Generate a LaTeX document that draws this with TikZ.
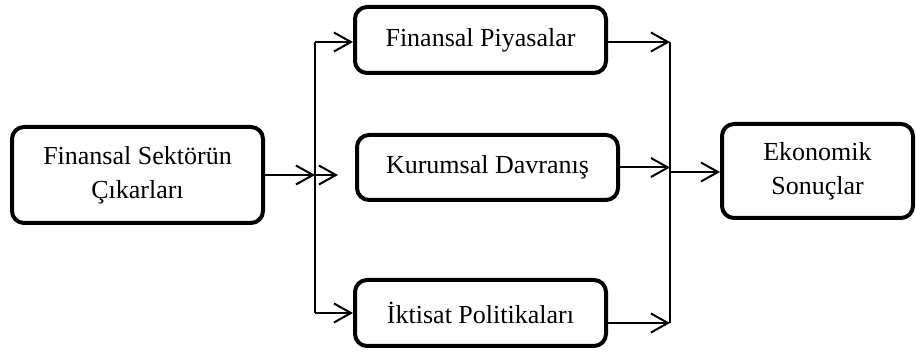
\documentclass[tikz,border=0pt]{standalone}
\usepackage{fontspec}
\setmainfont{Liberation Serif}
\usetikzlibrary{arrows.meta}
\tikzset{
  stage/.style={draw=black,line width=4bp,rounded corners=12bp,align=center,
    inner sep=0pt,font=\fontsize{26bp}{34bp}\selectfont},
}
\begin{document}
\begin{tikzpicture}[>={Straight Barb[length=17bp,width=19bp]},line width=2bp,line join=bevel,]
\useasboundingbox (0bp,0bp) rectangle (916bp,354bp);
%%
\node (src) at (137.5bp,179bp) [stage,minimum width=251bp,minimum height=96bp] {Finansal Sektörün\\Çıkarları};
  \node (piy) at (480.5bp,314bp) [stage,minimum width=251bp,minimum height=66bp] {Finansal Piyasalar};
  \node (kur) at (487.5bp,186.5bp) [stage,minimum width=261bp,minimum height=65bp] {Kurumsal Davranış};
  \node (ikt) at (480.5bp,41bp) [stage,minimum width=251bp,minimum height=66bp] {İktisat Politikaları};
  \node (eko) at (817.5bp,183bp) [stage,minimum width=191bp,minimum height=94bp] {Ekonomik\\Sonuçlar};
%
\coordinate (jtop) at (315bp,312bp);
  \coordinate (jmid) at (315bp,179bp);
  \coordinate (jbot) at (315bp,41bp);
  \coordinate (jend) at (338bp,179bp);
  \coordinate (rtop) at (670bp,312bp);
  \coordinate (rout) at (670bp,182bp);
  \coordinate (rbot) at (670bp,31bp);
%
\draw [black] (jtop) -- (jbot);
  \draw [black,->] (src.east) -- (jmid);
  \draw [black,->] (jmid) -- (jend);
  \draw [black,->] (jtop) -- (jtop -| piy.west);
  \draw [black,->] (jbot) -- (ikt.west);
%
\draw [black] (rtop) -- (rbot);
  \draw [black,->] (rtop -| piy.east) -- (rtop);
  \draw [black,->] (kur.east) -- (kur.east -| rtop);
  \draw [black,->] (rbot -| ikt.east) -- (rbot);
  \draw [black,->] (rout) -- (rout -| eko.west);
%
\end{tikzpicture}
\end{document}
